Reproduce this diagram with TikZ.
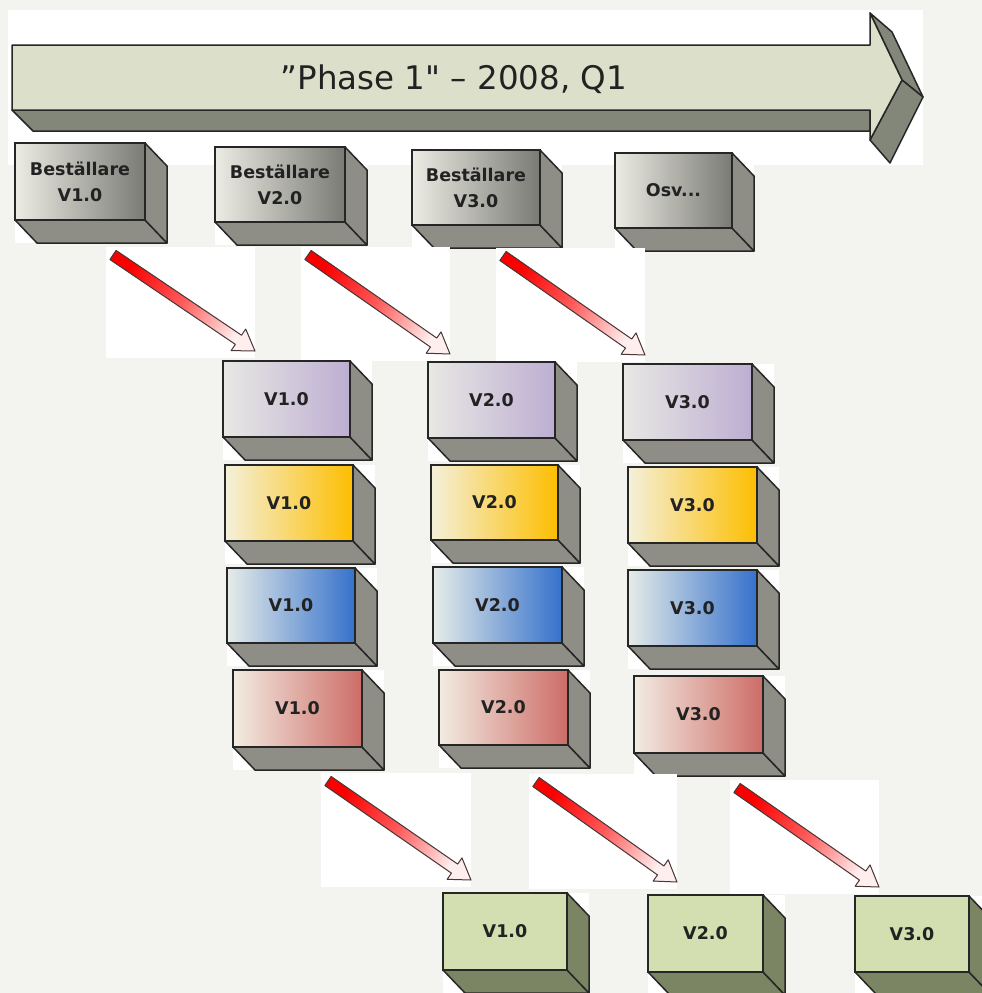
\documentclass[tikz,border=0pt]{standalone}
\usepackage{fontspec}
\setmainfont{DejaVu Sans}
\newfontfamily\phasefont{DejaVu Sans}
\usetikzlibrary{calc}
\definecolor{bg}{HTML}{F3F3EF}
\definecolor{edge}{HTML}{262626}
\definecolor{txt}{HTML}{222222}
\definecolor{arrowface}{HTML}{DCE0CA}
\definecolor{arrowside}{HTML}{83877A}
\definecolor{boxside}{HTML}{8E8E86}
\definecolor{greenside}{HTML}{7B8463}
\definecolor{greenfill}{HTML}{D3DFB0}
\definecolor{greyL}{HTML}{ECECE4}
\definecolor{greyR}{HTML}{7A7A75}
\definecolor{purpleL}{HTML}{E8E8E4}
\definecolor{purpleR}{HTML}{BDAED2}
\definecolor{yellowL}{HTML}{F4F0DA}
\definecolor{yellowR}{HTML}{FDBE00}
\definecolor{blueL}{HTML}{E6ECE8}
\definecolor{blueR}{HTML}{3571CC}
\definecolor{redL}{HTML}{F2ECE2}
\definecolor{redR}{HTML}{CD6C66}
\definecolor{arrline}{HTML}{4A3838}
\tikzset{
  face/.style={draw=edge, line width=1.5pt, inner sep=0pt, outer sep=0pt,
    font=\fontsize{17.5}{26}\selectfont\bfseries, text=txt, align=center},
  sideface/.style={draw=edge, line width=1.5pt, fill=#1, line join=round},
  greyface/.style={left color=greyL, right color=greyR},
  purpleface/.style={left color=purpleL, right color=purpleR},
  yellowface/.style={left color=yellowL, right color=yellowR},
  blueface/.style={left color=blueL, right color=blueR},
  redface/.style={left color=redL, right color=redR},
  greenface/.style={fill=greenfill},
  redarr/.style={draw=arrline, line width=1pt, line join=round,
    top color={rgb,255:red,250;green,0;blue,0},
    bottom color={rgb,255:red,255;green,238;blue,238},
    middle color={rgb,255:red,255;green,90;blue,90}, shading angle=56}
}
% box with depth: [side colour] name, top left, width, height, face style, text
\newcommand{\cube}[7][boxside]{%
  \fill[white] (#3) rectangle ++(#4+22,#5+23);
  \node[face,#6,anchor=north west,minimum width=#4,minimum height=#5] (#2) at (#3) {#7};
  \filldraw[sideface=#1] (#2.south west) -- (#2.south east) -- ++(22,23)
    -- ([shift={(22,23)}]#2.south west) -- cycle;
  \filldraw[sideface=#1] (#2.north east) -- ++(22,23)
    -- ([shift={(22,23)}]#2.south east) -- (#2.south east) -- cycle;
}
% red arrow from tail to tip
\newcommand{\redarrow}[2]{%
  \coordinate (#1m) at ($(#2)!20pt!(#1)$);
  \fill[white] ($(#1)+(-7,-8)$) rectangle ($(#2)+(0,7)$);
  \filldraw[redarr] ($(#1)!5.5pt!90:(#2)$) -- ($(#1m)!5.5pt!90:(#2)$)
    -- ($(#1m)!13pt!90:(#2)$) -- (#2) -- ($(#1m)!13pt!-90:(#2)$)
    -- ($(#1m)!5.5pt!-90:(#2)$) -- ($(#1)!5.5pt!-90:(#2)$) -- cycle;
}

\begin{document}
\begin{tikzpicture}[x=1pt, y=-1pt]
  \useasboundingbox (0,0) rectangle (982,993);
  \fill[bg] (0,0) rectangle (982,993);

  % phase arrow
  \fill[white] (8,10) rectangle (923,165);
  \filldraw[sideface=arrowside] (12,110) -- (870,110) -- (870,131) -- (33,131) -- cycle;
  \filldraw[sideface=arrowside] (870,13) -- (892,32) -- (923,97) -- (902,80) -- cycle;
  \filldraw[sideface=arrowside] (902,80) -- (923,97) -- (890,163) -- (870,140) -- cycle;
  \filldraw[sideface=arrowface] (12,45) -- (870,45) -- (870,13) -- (902,80)
    -- (870,140) -- (870,110) -- (12,110) -- cycle;
  \node[anchor=base, text=txt, font=\fontsize{32.5}{33}\phasefont] (phase) at (454,89)
    {”Phase 1" – 2008, Q1};

  \cube{b1}{15,143}{130}{77}{greyface}{Beställare\\V1.0}
  \cube{b2}{215,147}{130}{75}{greyface}{Beställare\\V2.0}
  \cube{b3}{412,150}{128}{75}{greyface}{Beställare\\V3.0}
  \cube{b4}{615,153}{117}{75}{greyface}{Osv...}

  \coordinate (a1) at (113,255); \coordinate (a1e) at (255,351);
  \coordinate (a2) at (308,255); \coordinate (a2e) at (450,354);
  \coordinate (a3) at (503,256); \coordinate (a3e) at (645,355);
  \redarrow{a1}{a1e} \redarrow{a2}{a2e} \redarrow{a3}{a3e}

  \cube{p1}{223,361}{127}{76}{purpleface}{V1.0}
  \cube{y1}{225,465}{128}{76}{yellowface}{V1.0}
  \cube{bl1}{227,568}{128}{75}{blueface}{V1.0}
  \cube{r1}{233,670}{129}{77}{redface}{V1.0}

  \cube{p2}{428,362}{127}{76}{purpleface}{V2.0}
  \cube{y2}{431,465}{127}{75}{yellowface}{V2.0}
  \cube{bl2}{433,567}{129}{76}{blueface}{V2.0}
  \cube{r2}{439,670}{129}{75}{redface}{V2.0}

  \cube{p3}{623,364}{129}{76}{purpleface}{V3.0}
  \cube{y3}{628,467}{129}{76}{yellowface}{V3.0}
  \cube{bl3}{628,570}{129}{76}{blueface}{V3.0}
  \cube{r3}{634,676}{129}{77}{redface}{V3.0}

  \coordinate (c1) at (328,781); \coordinate (c1e) at (471,880);
  \coordinate (c2) at (536,782); \coordinate (c2e) at (677,882);
  \coordinate (c3) at (737,788); \coordinate (c3e) at (879,887);
  \redarrow{c1}{c1e} \redarrow{c2}{c2e} \redarrow{c3}{c3e}

  \cube[greenside]{g1}{443,893}{124}{77}{greenface}{V1.0}
  \cube[greenside]{g2}{648,895}{115}{77}{greenface}{V2.0}
  \cube[greenside]{g3}{855,896}{114}{76}{greenface}{V3.0}
\end{tikzpicture}
\end{document}
